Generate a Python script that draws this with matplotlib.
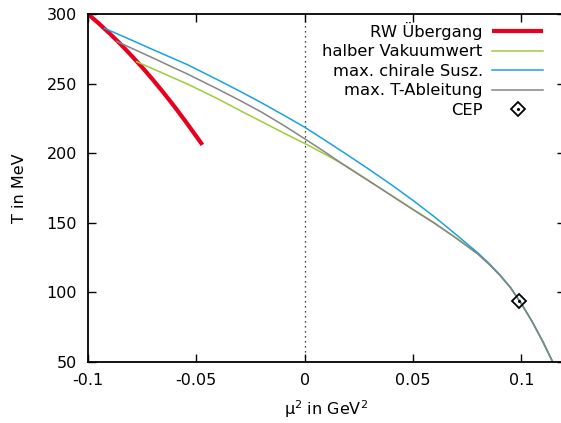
import matplotlib
matplotlib.use("Agg")
import matplotlib.pyplot as plt

# ---- data ----
rw_x = [-0.1, -0.095, -0.09, -0.085, -0.08, -0.075, -0.07, -0.065, -0.06, -0.055, -0.05, -0.0472]
rw_T = [300, 293.2, 286.0, 278.4, 270.2, 261.7, 252.7, 243.2, 233.3, 222.9, 212.1, 206.0]

hv_x = [-0.0775, -0.07, -0.06, -0.0541, -0.04, -0.03, -0.02, -0.01, 0.0, 0.01, 0.02, 0.03,
        0.04, 0.05, 0.06, 0.07, 0.08, 0.085, 0.09, 0.095, 0.1, 0.105, 0.11, 0.1145]
hv_T = [265.7, 260.6, 253.7, 249.7, 239.0, 230.8, 222.8, 214.8, 207.0, 198.8, 190.0, 179.9,
        169.8, 159.7, 149.8, 139.0, 127.6, 120.5, 112.6, 103.5, 92.0, 79.1, 64.5, 50.0]

chi_x = [-0.0923, -0.08, -0.07, -0.06, -0.0541, -0.04, -0.03, -0.02, -0.01, 0.0, 0.01, 0.02,
         0.03, 0.04, 0.05, 0.06, 0.07, 0.08, 0.085, 0.09, 0.095, 0.1, 0.105, 0.11, 0.1145]
chi_T = [289.7, 281.3, 274.4, 267.6, 263.6, 252.6, 244.6, 236.3, 227.6, 218.7, 208.7, 198.5,
         188.1, 177.4, 166.1, 154.2, 141.4, 128.3, 121.0, 112.9, 103.6, 92.1, 79.1, 64.5, 50.0]

td_x = [-0.0868, -0.08, -0.07, -0.06, -0.0541, -0.04, -0.03, -0.02, -0.01, 0.0, 0.01, 0.02,
        0.03, 0.04, 0.05, 0.06, 0.07, 0.08, 0.085, 0.09, 0.095, 0.1, 0.105, 0.11, 0.1145]
td_T = [280.4, 275.5, 268.4, 261.1, 256.9, 246.0, 238.0, 229.6, 220.3, 210.4, 200.2, 189.6,
        179.7, 169.6, 159.5, 149.6, 138.9, 127.5, 120.4, 112.5, 103.4, 91.9, 79.0, 64.5, 50.0]

cep_x = [0.0991]
cep_T = [93.8]

labels = ["RW Übergang", "halber Vakuumwert", "max. chirale Susz.", "max. T-Ableitung", "CEP"]
xticks = [-0.1, -0.05, 0, 0.05, 0.1]
xticklabels = ["-0.1", "-0.05", "0", "0.05", "0.1"]
yticks = [50, 100, 150, 200, 250, 300]

# ---- figure ----
plt.rcParams['font.family'] = ['DejaVu Sans']
W, H = 561, 423
fig = plt.figure(figsize=(W / 100, H / 100), dpi=100)
ax_w = 564.6 - 88
ax = fig.add_axes([88 / W, 1 - 362 / H, ax_w / W, (362 - 14) / H])

ax.axvline(0, color='black', lw=0.9, ls=(0, (1, 3)))

l1, = ax.plot(rw_x, rw_T, color='#e8001e', lw=3.0, solid_capstyle='butt')
l2, = ax.plot(hv_x, hv_T, color='#9ecb3a', lw=1.1)
l3, = ax.plot(chi_x, chi_T, color='#1aa1e0', lw=1.1)
l4, = ax.plot(td_x, td_T, color='#858585', lw=1.1)
m1, = ax.plot(cep_x, cep_T, ls='none', marker='D', ms=7.5, mfc='none', mec='black', mew=1.3)
m2, = ax.plot(cep_x, cep_T, ls='none', marker='o', ms=1.2, mfc='black', mec='black')

ax.set_xlim(-0.1, 0.12)
ax.set_ylim(50, 300)
ax.set_xticks(xticks)
ax.set_xticklabels(xticklabels)
ax.set_yticks(yticks)
ax.tick_params(direction='in', length=6, width=1.0, top=True, right=True,
               labelsize=11.5, colors='black')
ax.tick_params(axis='x', pad=8)
ax.tick_params(axis='y', pad=8)
for s in ax.spines.values():
    s.set_linewidth(1.3)

ax.set_xlabel("μ$^2$ in GeV$^2$", fontsize=11.5, labelpad=7)
ax.set_ylabel("T in MeV", fontsize=11.5, labelpad=14)

leg = ax.legend([l1, l2, l3, l4, (m1, m2)], labels, loc='upper right',
                bbox_to_anchor=((543.3 - 88) / ax_w, 1 - (22 - 14) / 348),
                markerfirst=False, frameon=False, fontsize=11.8,
                handlelength=3.1, handletextpad=0.6, labelspacing=0.27,
                borderaxespad=0, borderpad=0)

fig.savefig("out.png", dpi=100)
